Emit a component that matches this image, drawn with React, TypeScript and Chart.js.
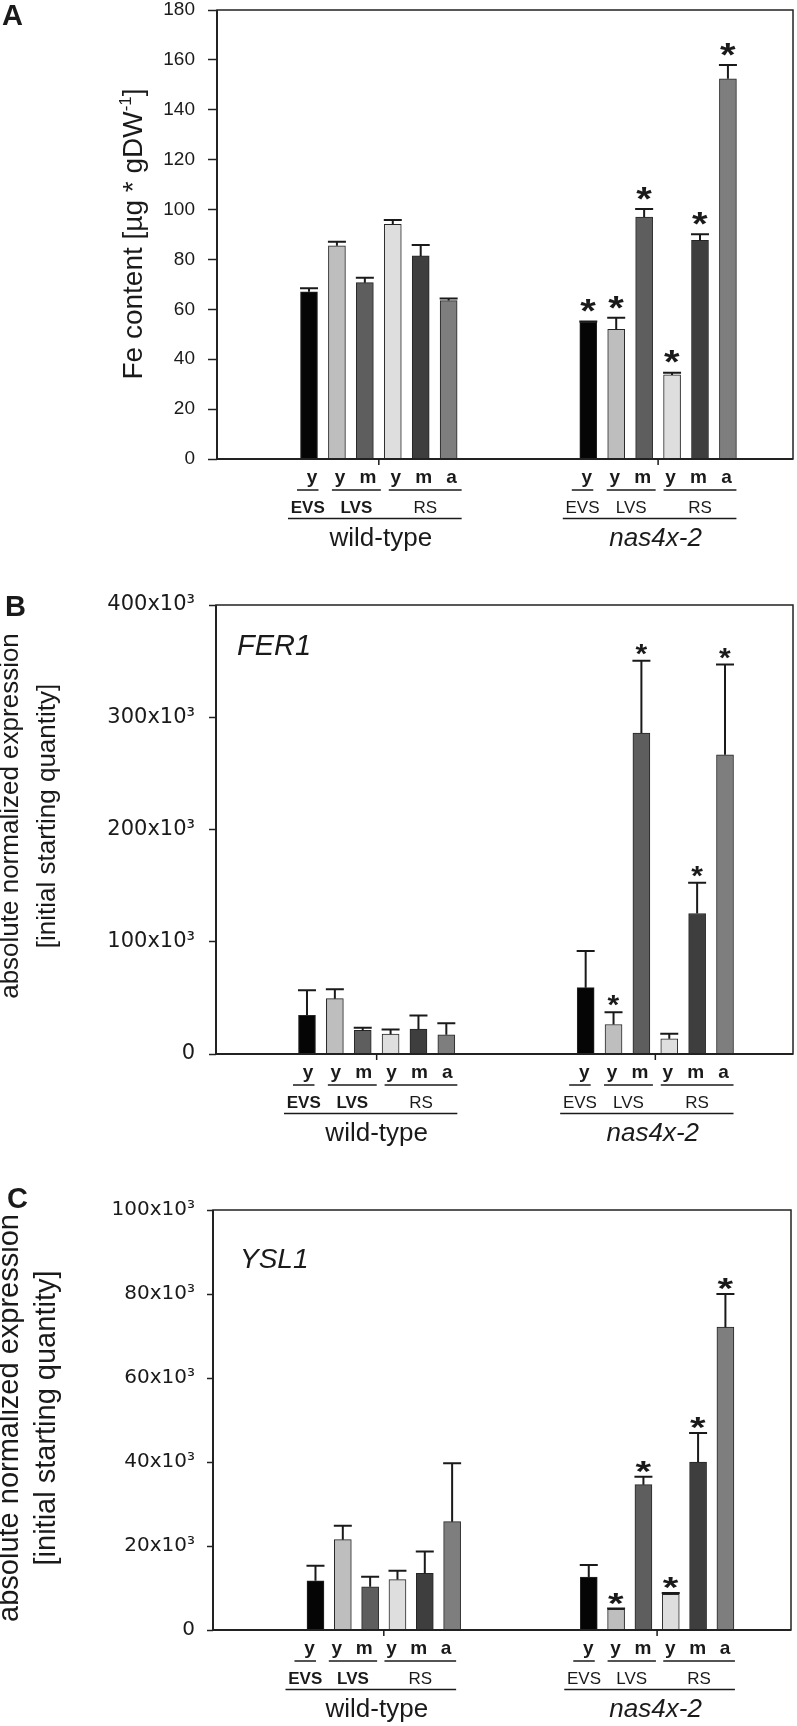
import React, { useEffect, useRef } from 'react';
import { Chart, registerables } from 'chart.js';

Chart.register(...registerables);

// ---------------- data ----------------
const stageLetters = ['y', 'y', 'm', 'y', 'm', 'a'];
const organNames = ['EVS', 'LVS', 'RS'];
const organOfBar = [0, 1, 1, 2, 2, 2];
const genotypes = ['wild-type', 'nas4x-2'];

// A: Fe content [µg * gDW^-1]
const feWildType = [67.0, 85.5, 70.7, 94.1, 81.4, 63.5];
const feWildTypeErr = [1.5, 1.6, 2.0, 1.7, 4.4, 0.8];
const feWildTypeSig = [0, 0, 0, 0, 0, 0];
const feNas = [54.8, 52.0, 97.0, 33.7, 87.7, 152.4];
const feNasErr = [0.3, 4.6, 3.2, 0.9, 2.4, 5.6];
const feNasSig = [1, 1, 1, 1, 1, 1];

// B: FER1 absolute normalized expression
const fer1WildType = [34400, 49300, 21000, 17700, 22200, 17100];
const fer1WildTypeErr = [22300, 8300, 2400, 4200, 12200, 10400];
const fer1WildTypeSig = [0, 0, 0, 0, 0, 0];
const fer1Nas = [59100, 26300, 285900, 13500, 125200, 266500];
const fer1NasErr = [32700, 11000, 64500, 4500, 27300, 80400];
const fer1NasSig = [0, 1, 1, 0, 1, 1];

// C: YSL1 absolute normalized expression
const ysl1WildType = [11700, 21500, 10300, 12000, 13500, 25800];
const ysl1WildTypeErr = [3600, 3300, 2400, 2100, 5200, 13900];
const ysl1WildTypeSig = [0, 0, 0, 0, 0, 0];
const ysl1Nas = [12600, 4900, 34600, 8500, 40000, 72100];
const ysl1NasErr = [2900, 200, 1900, 300, 6900, 7900];
const ysl1NasSig = [0, 1, 1, 1, 1, 1];

// axis ranges
const feAxis = { max: 180, step: 20 };
const fer1Axis = { max: 400000, step: 100000 };
const ysl1Axis = { max: 100000, step: 20000 };

// ---------------- style ----------------
const W = 797;
const FONT = '"Liberation Sans", Arial, sans-serif';
const TICKFONT = '"DejaVu Sans", sans-serif';
const INK = '#1a1a1a';
const barFills = ['#050505', '#bebebe', '#5e5e5e', '#dedede', '#3e3e3e', '#7e7e7e'];
const GROUP_STRIDE = 10;
const CAP = 18;
const organSpan = [[-15, 6.5], [-8, 13], [-7, 10]];
const genoSpan = [-24, 10];

const slotX = (gi: number, i: number) => gi * GROUP_STRIDE + i + 1;
const expFmt = (v: number) => (v === 0 ? '0' : `${v / 1000}x10\u00b3`);

type Seg = { t: string; sup?: boolean };

const panels: any[] = [
  {
    id: 'A', top: 0, height: 560,
    area: { left: 217, right: 793, top: 10, bottom: 459 },
    xMin: -2.294, xMax: 18.33,
    axis: feAxis, fmt: (v: number) => String(v),
    tickFont: { family: FONT, size: 19 }, tickLen: 9, tickPad: 13,
    values: [feWildType, feNas], errors: [feWildTypeErr, feNasErr], sig: [feWildTypeSig, feNasSig],
    star: { w: 16, h: 13, gap: 8 },
    shift: [3, -1.5],
    title: { size: 28, lines: [[{ t: 'Fe content [\u00b5g * gDW' }, { t: '-1', sup: true }, { t: ']' }]], xs: [142], cy: 234 },
    letter: { x: 2, y: 25 },
  },
  {
    id: 'B', top: 560, height: 600,
    area: { left: 216, right: 793, top: 45, bottom: 494 },
    xMin: -2.265, xMax: 18.44,
    axis: fer1Axis, fmt: expFmt,
    tickFont: { family: TICKFONT, size: 21 }, tickLen: 7, tickPad: 14,
    values: [fer1WildType, fer1Nas], errors: [fer1WildTypeErr, fer1NasErr], sig: [fer1WildTypeSig, fer1NasSig],
    star: { w: 12, h: 11, gap: 5 },
    shift: [1, -1.5],
    title: { size: 26, lines: [[{ t: 'absolute normalized expression' }], [{ t: '[initial starting quantity]' }]], xs: [18, 55], cy: 256 },
    letter: { x: 5, y: 56 },
    gene: { t: 'FER1', x: 237, y: 95, size: 29 },
  },
  {
    id: 'C', top: 1160, height: 566,
    area: { left: 213, right: 791, top: 50, bottom: 470 },
    xMin: -2.75, xMax: 18.4,
    axis: ysl1Axis, fmt: expFmt,
    tickFont: { family: TICKFONT, size: 20 }, tickLen: 6, tickPad: 12,
    values: [ysl1WildType, ysl1Nas], errors: [ysl1WildTypeErr, ysl1NasErr], sig: [ysl1WildTypeSig, ysl1NasSig],
    star: { w: 16, h: 12, gap: 4 },
    shift: [-6, -0.5],
    title: { size: 29, lines: [[{ t: 'absolute normalized expression' }], [{ t: '[initial starting quantity]' }]], xs: [18, 55], cy: 258 },
    letter: { x: 7, y: 48 },
    gene: { t: 'YSL1', x: 240, y: 108, size: 28 },
  },
];

function drawStar(ctx: CanvasRenderingContext2D, cx: number, bottom: number, w: number, h: number) {
  ctx.save();
  ctx.font = `bold 40px ${FONT}`;
  ctx.textAlign = 'left';
  ctx.textBaseline = 'alphabetic';
  const m = ctx.measureText('*');
  const gw = m.actualBoundingBoxLeft + m.actualBoundingBoxRight;
  const gh = m.actualBoundingBoxAscent + m.actualBoundingBoxDescent;
  ctx.translate(cx, bottom);
  ctx.scale(w / gw, h / gh);
  ctx.fillStyle = INK;
  ctx.fillText('*', (m.actualBoundingBoxLeft - m.actualBoundingBoxRight) / 2, -m.actualBoundingBoxDescent);
  ctx.restore();
}

function drawRotatedTitle(ctx: CanvasRenderingContext2D, title: any) {
  const size = title.size;
  title.lines.forEach((segs: Seg[], li: number) => {
    const fontOf = (s: Seg) => `${s.sup ? Math.round(size * 0.6) : size}px ${FONT}`;
    const widths = segs.map((s) => {
      ctx.font = fontOf(s);
      return ctx.measureText(s.t).width;
    });
    const total = widths.reduce((a, b) => a + b, 0);
    ctx.save();
    ctx.translate(title.xs[li], title.cy);
    ctx.rotate(-Math.PI / 2);
    ctx.fillStyle = INK;
    ctx.textAlign = 'left';
    ctx.textBaseline = 'alphabetic';
    let x = -total / 2;
    segs.forEach((s, k) => {
      ctx.font = fontOf(s);
      ctx.fillText(s.t, x, s.sup ? -size * 0.38 : 0);
      x += widths[k];
    });
    ctx.restore();
  });
}

function buildConfig(p: any): any {
  const datasets = genotypes.map((g, gi) => ({
    label: g,
    data: p.values[gi].map((v: number, i: number) => ({ x: slotX(gi, i), y: v })),
    backgroundColor: barFills,
    borderColor: '#262626',
    borderWidth: 1,
    barThickness: 17,
    grouped: false,
  }));

  const panelPlugin = {
    id: 'panelDecor' + p.id,
    afterDatasetsDraw(chart: any) {
      const ctx: CanvasRenderingContext2D = chart.ctx;
      const ys = chart.scales.y;
      ctx.save();
      ctx.strokeStyle = INK;
      ctx.lineWidth = 2;
      genotypes.forEach((_, gi) => {
        const meta = chart.getDatasetMeta(gi);
        p.values[gi].forEach((v: number, i: number) => {
          const x = meta.data[i].x;
          const y0 = ys.getPixelForValue(v);
          const y1 = ys.getPixelForValue(v + p.errors[gi][i]);
          ctx.beginPath();
          ctx.moveTo(x, y0);
          ctx.lineTo(x, y1);
          ctx.moveTo(x - CAP / 2, y1);
          ctx.lineTo(x + CAP / 2, y1);
          ctx.stroke();
          if (p.sig[gi][i]) drawStar(ctx, x, y1 - p.star.gap - 1, p.star.w, p.star.h);
        });
      });
      ctx.restore();
    },
    afterDraw(chart: any) {
      const ctx: CanvasRenderingContext2D = chart.ctx;
      const xs = chart.scales.x;
      const a = chart.chartArea;
      ctx.save();
      // frame
      ctx.strokeStyle = '#222';
      ctx.lineWidth = 1.5;
      ctx.strokeRect(a.left, a.top, a.right - a.left, a.bottom - a.top);
      ctx.lineWidth = 2;
      ctx.beginPath();
      ctx.moveTo(a.left, a.top);
      ctx.lineTo(a.left, a.bottom);
      ctx.lineTo(a.right, a.bottom);
      ctx.stroke();

      const bottom = a.bottom;
      ctx.fillStyle = INK;
      ctx.strokeStyle = INK;
      ctx.textAlign = 'center';
      ctx.textBaseline = 'alphabetic';

      genotypes.forEach((g, gi) => {
        const sh = p.shift[gi];
        const px = (i: number) => xs.getPixelForValue(slotX(gi, i)) + sh;
        // group centre tick
        const tx = xs.getPixelForValue(gi * GROUP_STRIDE + 3.5);
        ctx.lineWidth = 1.5;
        ctx.beginPath();
        ctx.moveTo(tx, bottom);
        ctx.lineTo(tx, bottom + 6);
        ctx.stroke();
        // stage letters
        ctx.font = `bold 19px ${FONT}`;
        stageLetters.forEach((s, i) => ctx.fillText(s, px(i), bottom + 23.5));
        // organ underlines + labels
        organNames.forEach((o, oi) => {
          const idx = organOfBar.map((ob, i) => (ob === oi ? i : -1)).filter((i) => i >= 0);
          const x1 = px(idx[0]) + organSpan[oi][0];
          const x2 = px(idx[idx.length - 1]) + organSpan[oi][1];
          ctx.lineWidth = 1.5;
          ctx.beginPath();
          ctx.moveTo(x1, bottom + 31);
          ctx.lineTo(x2, bottom + 31);
          ctx.stroke();
          ctx.font = `${gi === 0 && oi < 2 ? 'bold ' : ''}17px ${FONT}`;
          ctx.fillText(o, (x1 + x2) / 2, bottom + 53.5);
        });
        // genotype underline + label
        const g1 = px(0) + genoSpan[0];
        const g2 = px(stageLetters.length - 1) + genoSpan[1];
        ctx.lineWidth = 1.5;
        ctx.beginPath();
        ctx.moveTo(g1, bottom + 59.5);
        ctx.lineTo(g2, bottom + 59.5);
        ctx.stroke();
        ctx.font = `${gi === 1 ? 'italic ' : ''}26px ${FONT}`;
        ctx.fillText(g, (g1 + g2) / 2 + 6, bottom + 87);
      });

      // axis title
      drawRotatedTitle(ctx, p.title);

      // panel letter
      ctx.textAlign = 'left';
      ctx.font = `bold 29px ${FONT}`;
      ctx.fillText(p.id, p.letter.x, p.letter.y);

      // gene name
      if (p.gene) {
        ctx.font = `italic ${p.gene.size}px ${FONT}`;
        ctx.fillText(p.gene.t, p.gene.x, p.gene.y);
      }
      ctx.restore();
    },
  };

  return {
    type: 'bar',
    data: { datasets },
    options: {
      animation: false,
      responsive: false,
      events: [],
      layout: { padding: { left: 0, right: W - p.area.right, top: p.area.top, bottom: 0 } },
      plugins: { legend: { display: false }, tooltip: { enabled: false } },
      scales: {
        x: {
          type: 'linear',
          min: p.xMin,
          max: p.xMax,
          offset: false,
          ticks: { display: false },
          grid: { display: false },
          border: { display: false },
          afterFit: (s: any) => {
            s.height = p.height - p.area.bottom;
            s.paddingLeft = 0;
            s.paddingRight = 0;
          },
        },
        y: {
          type: 'linear',
          min: 0,
          max: p.axis.max,
          ticks: {
            stepSize: p.axis.step,
            font: p.tickFont,
            color: INK,
            padding: p.tickPad,
            autoSkip: false,
            callback: (v: any) => p.fmt(Number(v)),
          },
          grid: {
            drawOnChartArea: false,
            drawTicks: true,
            tickLength: p.tickLen,
            tickWidth: 1.5,
            tickColor: '#222',
          },
          border: { display: false },
          afterFit: (s: any) => {
            s.width = p.area.left;
            s.paddingTop = 0;
            s.paddingBottom = 0;
          },
        },
      },
    },
    plugins: [panelPlugin],
  };
}

function Panel({ p }: { p: any }) {
  const ref = useRef<HTMLCanvasElement>(null);
  useEffect(() => {
    const chart = new Chart(ref.current as HTMLCanvasElement, buildConfig(p));
    return () => chart.destroy();
  }, [p]);
  return (
    <canvas
      ref={ref}
      width={W}
      height={p.height}
      style={{ position: 'absolute', left: 0, top: p.top, width: W, height: p.height, display: 'block' }}
    />
  );
}

export default function App() {
  return (
    <div style={{ position: 'absolute', left: 0, top: 0, width: W, height: 1726, background: '#ffffff' }}>
      {panels.map((p) => (
        <Panel key={p.id} p={p} />
      ))}
    </div>
  );
}
